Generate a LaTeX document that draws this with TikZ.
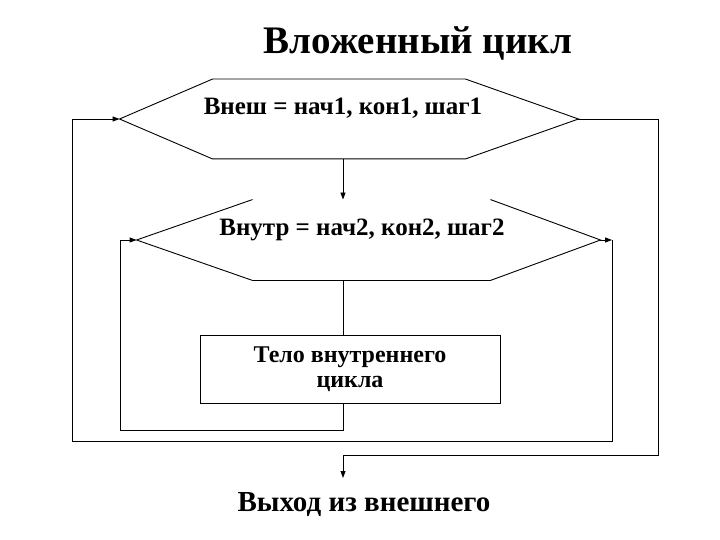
\documentclass[tikz,border=0pt]{standalone}
\usepackage{fontspec}
\setmainfont{Liberation Serif}
\usepackage{tikz}
\usetikzlibrary{arrows.meta}

\begin{document}
\begin{tikzpicture}[
  x=1pt, y=-1pt,
  line width=0.9pt,
  hexa/.style={inner sep=0pt, minimum width=#1},
  hexa/.default=460pt,
  lbl/.style={inner sep=1pt, font=\fontsize{25}{28}\selectfont\bfseries},
  body/.style={draw, inner sep=0pt, minimum width=300pt, minimum height=68pt, align=center, font=\fontsize{24}{25}\selectfont\bfseries},
  >={Triangle[length=7pt, width=5pt]},
]
\useasboundingbox (0,0) rectangle (720,540);
\coordinate (trunk) at (343,0);

\node[font=\fontsize{39}{44}\selectfont\bfseries] (title) at (418,43) {Вложенный цикл};

% outer loop header
\node[hexa=458pt, minimum height=79pt] (outer) at (349,119) {};
\draw (outer.west) -- ([xshift=93pt]outer.north west) -- ([xshift=-113pt]outer.north east)
  -- (outer.east) -- ([xshift=-113pt]outer.south east) -- ([xshift=93pt]outer.south west) -- cycle;
\node[lbl] (outerTxt) at (343,108) {Внеш = нач1, кон1, шаг1};

% inner loop header (no top edge)
\node[hexa=463pt, minimum height=80pt] (inner) at (368.5,240) {};
\draw ([xshift=116pt]inner.north west) -- (inner.west) -- ([xshift=116pt]inner.south west)
  -- ([xshift=-110pt]inner.south east) -- (inner.east) -- ([xshift=-110pt]inner.north east);
\node[lbl] (innerTxt) at (362,230) {Внутр = нач2, кон2, шаг2};

\node[body] (body) at (350,369) {Тело внутреннего\\цикла};

\node[font=\fontsize{29}{33}\selectfont\bfseries] (exit) at (364,505) {Выход из внешнего};

\coordinate (innerR) at (612,240);
\coordinate (backL) at (72,441);
\coordinate (loopL) at (120,430);
\coordinate (exitR) at (658,455);

\draw[->] (outer.south -| trunk) -- (inner.north -| trunk);
\draw (inner.south -| trunk) -- (body.north -| trunk);
\draw[->] (body.south -| trunk) |- (loopL) |- (inner.west);
\draw[->] (inner.east) -- (innerR);
\draw[->] (innerR) |- (backL) |- (outer.west);
\draw (outer.east) -| (exitR) -- (exitR -| trunk);
\draw[->] (exitR -| trunk) -- (343,478);
\end{tikzpicture}
\end{document}
